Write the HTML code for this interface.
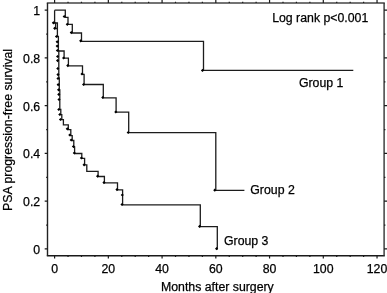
<!DOCTYPE html>
<html><head><meta charset="utf-8"><style>
html,body{margin:0;padding:0;background:#fff;}
svg{display:block;will-change:transform;}
text{font-family:"Liberation Sans",sans-serif;font-size:12.3px;fill:#000;stroke:#000;stroke-width:0.25px;}
</style></head><body>
<svg width="387" height="293" viewBox="0 0 387 293">
<path d="M46.8,3.0 H384.8" stroke="#444" stroke-width="1.4" fill="none"/>
<path d="M46.8,255.8 H384.8" stroke="#1a1a1a" stroke-width="1.4" fill="none"/>
<path d="M47.5,3.0 V255.8" stroke="#222" stroke-width="1.4" fill="none"/>
<path d="M384.1,3.0 V255.8" stroke="#333" stroke-width="1.4" fill="none"/>
<path d="M54.60,255.8 V258.6 M54.60,3.0 V0.0 M108.34,255.8 V258.6 M108.34,3.0 V0.0 M162.08,255.8 V258.6 M162.08,3.0 V0.0 M215.82,255.8 V258.6 M215.82,3.0 V0.0 M269.56,255.8 V258.6 M269.56,3.0 V0.0 M323.30,255.8 V258.6 M323.30,3.0 V0.0 M377.04,255.8 V258.6 M377.04,3.0 V0.0 M68.03,255.8 V257.1 M68.03,3.0 V1.7 M81.47,255.8 V257.1 M81.47,3.0 V1.7 M94.91,255.8 V257.1 M94.91,3.0 V1.7 M121.78,255.8 V257.1 M121.78,3.0 V1.7 M135.21,255.8 V257.1 M135.21,3.0 V1.7 M148.64,255.8 V257.1 M148.64,3.0 V1.7 M175.51,255.8 V257.1 M175.51,3.0 V1.7 M188.95,255.8 V257.1 M188.95,3.0 V1.7 M202.38,255.8 V257.1 M202.38,3.0 V1.7 M229.25,255.8 V257.1 M229.25,3.0 V1.7 M242.69,255.8 V257.1 M242.69,3.0 V1.7 M256.12,255.8 V257.1 M256.12,3.0 V1.7 M283.00,255.8 V257.1 M283.00,3.0 V1.7 M296.43,255.8 V257.1 M296.43,3.0 V1.7 M309.87,255.8 V257.1 M309.87,3.0 V1.7 M336.74,255.8 V257.1 M336.74,3.0 V1.7 M350.17,255.8 V257.1 M350.17,3.0 V1.7 M363.61,255.8 V257.1 M363.61,3.0 V1.7 M47.5,248.90 H44.7 M384.1,248.90 H387.0 M47.5,201.16 H44.7 M384.1,201.16 H387.0 M47.5,153.42 H44.7 M384.1,153.42 H387.0 M47.5,105.68 H44.7 M384.1,105.68 H387.0 M47.5,57.94 H44.7 M384.1,57.94 H387.0 M47.5,10.20 H44.7 M384.1,10.20 H387.0 M47.5,225.03 H46.2 M384.1,225.03 H385.40000000000003 M47.5,177.29 H46.2 M384.1,177.29 H385.40000000000003 M47.5,129.55 H46.2 M384.1,129.55 H385.40000000000003 M47.5,81.81 H46.2 M384.1,81.81 H385.40000000000003 M47.5,34.07 H46.2 M384.1,34.07 H385.40000000000003" fill="none" stroke="#1a1a1a" stroke-width="1.2"/>
<path d="M54.6,10.2 H65.3 V17.3 H68 V24.4 H72.3 V33 H81.5 V41.3 H203.5 V70.4 H353.3" fill="none" stroke="#1c1c1c" stroke-width="1.3"/>
<path d="M54.6,10.2 V23 H57.4 V36.5 H58.4 V51 H64.1 V58.1 H68.4 V65.8 H82.5 V74.3 H84.1 V84.5 H103.3 V97.8 H116.1 V112.2 H128.7 V132.6 H215.8 V190.4 H244.4" fill="none" stroke="#1c1c1c" stroke-width="1.3"/>
<path d="M54.6,23 H55.6 V28.5 H57.4 M58.4,51 H58.8 V78 H59.3 V90 H59.8 V109.3 H60.8 V114.6 H61.8 V119.6 H63.4 V124.8 H68.3 V129.6 H70.8 V135.6 H72.2 V140.5 H73.8 V147 H74.6 V153.5 H81.8 V158.3 H84.6 V164.9 H86.8 V171.3 H98.1 V176.5 H104.4 V182.8 H117.5 V189.8 H122.6 V204.9 H200.3 V226.6 H217.3 V249.4" fill="none" stroke="#1c1c1c" stroke-width="1.3"/>
<path d="M62.6,16.5 l1.6,-1.6 l1.6,1.6 l-1.6,1.6z M65.7,24.3 l1.6,-1.6 l1.6,1.6 l-1.6,1.6z M69.7,32.6 l1.6,-1.6 l1.6,1.6 l-1.6,1.6z M79.1,40.8 l1.6,-1.6 l1.6,1.6 l-1.6,1.6z M200.9,70.4 l1.6,-1.6 l1.6,1.6 l-1.6,1.6z M51.8,22.8 l1.6,-1.6 l1.6,1.6 l-1.6,1.6z M53.1,28.3 l1.6,-1.6 l1.6,1.6 l-1.6,1.6z M54.9,36.5 l1.6,-1.6 l1.6,1.6 l-1.6,1.6z M55.6,41.8 l1.6,-1.6 l1.6,1.6 l-1.6,1.6z M55.6,46.1 l1.6,-1.6 l1.6,1.6 l-1.6,1.6z M55.8,50.5 l1.6,-1.6 l1.6,1.6 l-1.6,1.6z M62.0,58.0 l1.6,-1.6 l1.6,1.6 l-1.6,1.6z M66.2,65.6 l1.6,-1.6 l1.6,1.6 l-1.6,1.6z M80.4,74.0 l1.6,-1.6 l1.6,1.6 l-1.6,1.6z M82.0,84.5 l1.6,-1.6 l1.6,1.6 l-1.6,1.6z M101.2,97.5 l1.6,-1.6 l1.6,1.6 l-1.6,1.6z M114.2,112.0 l1.6,-1.6 l1.6,1.6 l-1.6,1.6z M126.6,132.5 l1.6,-1.6 l1.6,1.6 l-1.6,1.6z M213.2,190.2 l1.6,-1.6 l1.6,1.6 l-1.6,1.6z M56.0,56.5 l1.6,-1.6 l1.6,1.6 l-1.6,1.6z M56.0,60.6 l1.6,-1.6 l1.6,1.6 l-1.6,1.6z M56.2,68.5 l1.6,-1.6 l1.6,1.6 l-1.6,1.6z M56.4,74.6 l1.6,-1.6 l1.6,1.6 l-1.6,1.6z M56.4,78.5 l1.6,-1.6 l1.6,1.6 l-1.6,1.6z M56.6,84.7 l1.6,-1.6 l1.6,1.6 l-1.6,1.6z M57.0,89.8 l1.6,-1.6 l1.6,1.6 l-1.6,1.6z M57.2,94.4 l1.6,-1.6 l1.6,1.6 l-1.6,1.6z M57.4,99.5 l1.6,-1.6 l1.6,1.6 l-1.6,1.6z M57.2,109.5 l1.6,-1.6 l1.6,1.6 l-1.6,1.6z M58.2,114.5 l1.6,-1.6 l1.6,1.6 l-1.6,1.6z M58.9,119.5 l1.6,-1.6 l1.6,1.6 l-1.6,1.6z M65.7,128.8 l1.6,-1.6 l1.6,1.6 l-1.6,1.6z M68.2,135.0 l1.6,-1.6 l1.6,1.6 l-1.6,1.6z M69.6,140.0 l1.6,-1.6 l1.6,1.6 l-1.6,1.6z M71.8,146.5 l1.6,-1.6 l1.6,1.6 l-1.6,1.6z M72.7,153.0 l1.6,-1.6 l1.6,1.6 l-1.6,1.6z M79.8,158.0 l1.6,-1.6 l1.6,1.6 l-1.6,1.6z M82.5,164.8 l1.6,-1.6 l1.6,1.6 l-1.6,1.6z M96.0,176.2 l1.6,-1.6 l1.6,1.6 l-1.6,1.6z M102.4,182.6 l1.6,-1.6 l1.6,1.6 l-1.6,1.6z M115.4,189.6 l1.6,-1.6 l1.6,1.6 l-1.6,1.6z M120.7,195.0 l1.6,-1.6 l1.6,1.6 l-1.6,1.6z M120.4,204.5 l1.6,-1.6 l1.6,1.6 l-1.6,1.6z M198.0,226.4 l1.6,-1.6 l1.6,1.6 l-1.6,1.6z M215.0,248.7 l1.6,-1.6 l1.6,1.6 l-1.6,1.6z" fill="#000"/>
<text x="40.2" y="253.80" text-anchor="end">0</text>
<text x="40.2" y="206.06" text-anchor="end">0.2</text>
<text x="40.2" y="158.32" text-anchor="end">0.4</text>
<text x="40.2" y="110.58" text-anchor="end">0.6</text>
<text x="40.2" y="62.84" text-anchor="end">0.8</text>
<text x="40.2" y="15.10" text-anchor="end">1</text>
<text x="54.60" y="272.7" text-anchor="middle">0</text>
<text x="108.34" y="272.7" text-anchor="middle">20</text>
<text x="162.08" y="272.7" text-anchor="middle">40</text>
<text x="215.82" y="272.7" text-anchor="middle">60</text>
<text x="269.56" y="272.7" text-anchor="middle">80</text>
<text x="323.30" y="272.7" text-anchor="middle">100</text>
<text x="377.04" y="272.7" text-anchor="middle">120</text>
<text x="217.4" y="290.5" text-anchor="middle">Months after surgery</text>
<text x="0" y="0" text-anchor="middle" transform="translate(11.5,129.9) rotate(-90)">PSA progression-free survival</text>
<text x="272.2" y="22.1" text-anchor="start">Log rank p&lt;0.001</text>
<text x="298.9" y="86.7" text-anchor="start">Group 1</text>
<text x="250.3" y="194.2" text-anchor="start">Group 2</text>
<text x="224.0" y="245.3" text-anchor="start">Group 3</text>
</svg>
</body></html>
